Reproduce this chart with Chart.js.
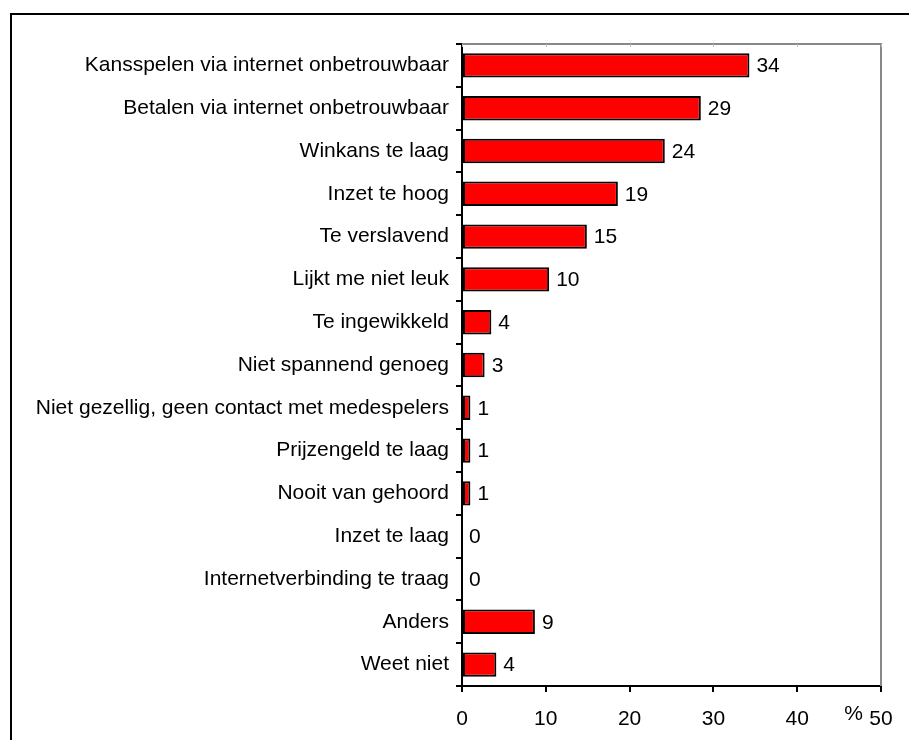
<!DOCTYPE html>
<html>
<head>
<meta charset="utf-8">
<script src="https://cdn.jsdelivr.net/npm/chart.js@4.4.1/dist/chart.umd.min.js"></script>
<style>
  html, body { margin: 0; padding: 0; background: #fff; }
  #wrap { width: 909px; height: 740px; position: relative; }
</style>
</head>
<body>
<div id="wrap"><canvas id="chart" width="909" height="740"></canvas></div>
<script>
var categories = [
  "Kansspelen via internet onbetrouwbaar",
  "Betalen via internet onbetrouwbaar",
  "Winkans te laag",
  "Inzet te hoog",
  "Te verslavend",
  "Lijkt me niet leuk",
  "Te ingewikkeld",
  "Niet spannend genoeg",
  "Niet gezellig, geen contact met medespelers",
  "Prijzengeld te laag",
  "Nooit van gehoord",
  "Inzet te laag",
  "Internetverbinding te traag",
  "Anders",
  "Weet niet"
];
var values = [34.3, 28.5, 24.2, 18.6, 14.9, 10.4, 3.5, 2.7, 1.0, 1.0, 1.0, 0, 0, 8.7, 4.1];
var shownValues = [34, 29, 24, 19, 15, 10, 4, 3, 1, 1, 1, 0, 0, 9, 4];
var xTicks = [0, 10, 20, 30, 40, 50];

(function () {
  var font = "'Liberation Sans', Arial, sans-serif";

  // outer frame, top/right gray border of the plot, value labels and the % sign
  var extras = {
    id: "extras",
    beforeDraw: function (chart) {
      var ctx = chart.ctx;
      ctx.save();
      ctx.strokeStyle = "#000";
      ctx.lineWidth = 2;
      ctx.strokeRect(11, 14, 1000, 1000);
      ctx.restore();
    },
    afterDatasetsDraw: function (chart) {
      var ctx = chart.ctx;
      var a = chart.chartArea;
      var xs = chart.scales.x;
      ctx.save();
      ctx.strokeStyle = "#888";
      ctx.lineWidth = 2;
      ctx.beginPath();
      ctx.moveTo(a.left, a.top);
      ctx.lineTo(a.right, a.top);
      ctx.lineTo(a.right, a.bottom);
      ctx.stroke();
      ctx.lineWidth = 1;
      ctx.strokeStyle = "#bbb";
      xTicks.forEach(function (t) {
        var px = Math.round(xs.getPixelForValue(t)) + 0.5;
        ctx.beginPath();
        ctx.moveTo(px, a.top);
        ctx.lineTo(px, a.top + 3);
        ctx.stroke();
      });

      var meta = chart.getDatasetMeta(0);
      ctx.fillStyle = "#000";
      ctx.font = "21px " + font;
      ctx.textAlign = "left";
      ctx.textBaseline = "middle";
      meta.data.forEach(function (bar, i) {
        ctx.fillText(String(shownValues[i]), bar.x + 7, bar.y + 1);
      });

      ctx.textAlign = "right";
      ctx.fillText("%", 863, 714);
      ctx.restore();
    }
  };

  new Chart(document.getElementById("chart"), {
    type: "bar",
    data: {
      labels: categories,
      datasets: [
        {
          data: values,
          backgroundColor: "#ff0000",
          borderColor: "#000",
          borderWidth: 2,
          borderSkipped: false,
          barPercentage: 0.57,
          categoryPercentage: 1
        }
      ]
    },
    options: {
      indexAxis: "y",
      responsive: false,
      animation: false,
      layout: { padding: { left: 0, top: 44, right: 28, bottom: 0 } },
      plugins: { legend: { display: false }, tooltip: { enabled: false } },
      scales: {
        x: {
          min: 0,
          max: 50,
          afterBuildTicks: function (scale) {
            scale.ticks = xTicks.map(function (v) { return { value: v }; });
          },
          afterFit: function (scale) { scale.height = 54; },
          ticks: { color: "#000", font: { family: font, size: 21 }, padding: 15, maxRotation: 0 },
          grid: { drawOnChartArea: false, drawTicks: true, tickLength: 6, color: "#000", lineWidth: 2 },
          border: { color: "#000", width: 2 }
        },
        y: {
          afterFit: function (scale) { scale.width = 462; },
          ticks: { color: "#000", font: { family: font, size: 21 }, padding: 7, autoSkip: false },
          grid: { drawOnChartArea: false, drawTicks: true, tickLength: 6, color: "#000", lineWidth: 2, offset: true },
          border: { color: "#000", width: 2 }
        }
      }
    },
    plugins: [extras]
  });
})();
</script>
</body>
</html>
